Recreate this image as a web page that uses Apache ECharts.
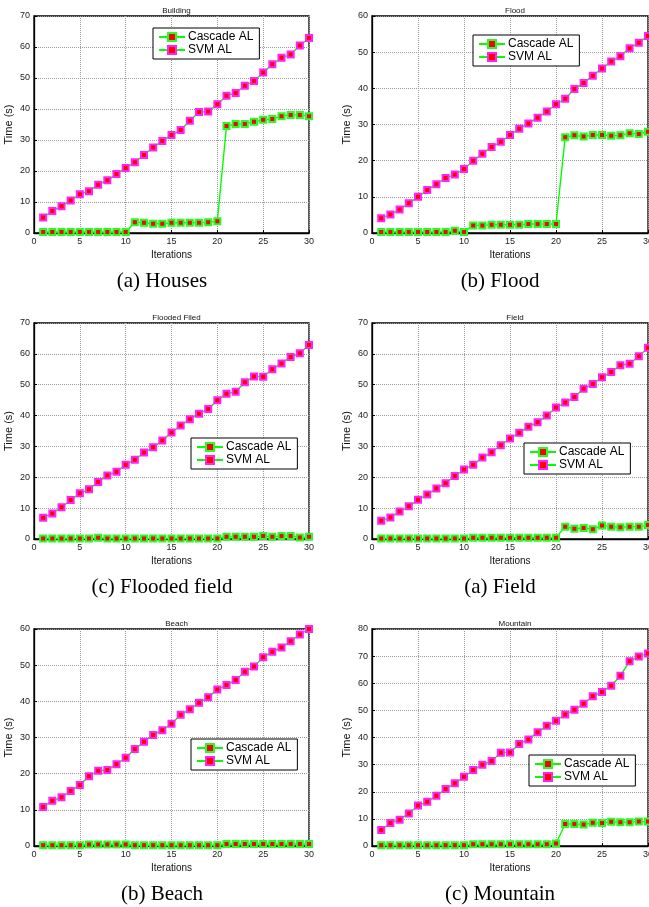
<!DOCTYPE html>
<html>
<head>
<meta charset="utf-8">
<script src="https://cdn.jsdelivr.net/npm/echarts@6/dist/echarts.min.js"></script>
<style>
  html, body { margin: 0; padding: 0; background: #fff; }
  #main { width: 649px; height: 907px; }
</style>
</head>
<body>
<div id="main"></div>
<script>
// iteration index (x axis)
var iterations = [1, 2, 3, 4, 5, 6, 7, 8, 9, 10, 11, 12, 13, 14, 15, 16, 17, 18, 19, 20, 21, 22, 23, 24, 25, 26, 27, 28, 29, 30];

// (a) Houses / Building
var housesCascade = [0.3, 0.3, 0.3, 0.3, 0.3, 0.3, 0.3, 0.3, 0.3, 0.3, 3.5, 3.3, 3.0, 3.0, 3.3, 3.3, 3.3, 3.3, 3.5, 3.8, 34.5, 35.2, 35.2, 35.9, 36.5, 36.8, 37.7, 38.1, 38.1, 37.7];
var housesSvm = [5.0, 7.1, 8.6, 10.5, 12.5, 13.5, 15.6, 17.0, 19.0, 21.0, 22.8, 25.2, 27.6, 29.7, 31.6, 33.2, 36.2, 39.0, 39.2, 41.5, 44.3, 45.2, 47.5, 49.0, 51.8, 54.4, 56.5, 57.6, 60.5, 62.9];

// (b) Flood
var floodCascade = [0.3, 0.3, 0.3, 0.3, 0.3, 0.3, 0.3, 0.3, 0.6, 0.3, 2.1, 2.1, 2.3, 2.3, 2.3, 2.3, 2.5, 2.5, 2.5, 2.5, 26.5, 27.0, 26.7, 27.1, 27.1, 26.9, 27.0, 27.6, 27.4, 28.0];
var floodSvm = [4.1, 5.1, 6.5, 8.2, 10.0, 11.9, 13.5, 15.2, 16.2, 17.7, 20.0, 21.9, 23.8, 25.2, 27.1, 28.8, 30.3, 31.9, 33.6, 35.6, 37.1, 39.8, 41.5, 43.5, 45.5, 47.4, 48.9, 51.1, 52.6, 54.5];

// (c) Flooded field
var floodedFieldCascade = [0.2, 0.2, 0.2, 0.2, 0.2, 0.2, 0.4, 0.2, 0.2, 0.2, 0.2, 0.2, 0.2, 0.2, 0.2, 0.2, 0.2, 0.2, 0.2, 0.2, 0.7, 0.7, 0.7, 0.7, 1.0, 0.7, 1.0, 1.0, 0.5, 0.7];
var floodedFieldSvm = [6.9, 8.3, 10.3, 12.6, 14.8, 16.1, 18.5, 20.6, 21.8, 24.1, 25.7, 28.0, 29.7, 31.9, 34.5, 36.8, 38.8, 40.6, 42.1, 45.0, 47.1, 47.7, 50.8, 52.7, 52.6, 55.0, 56.9, 59.0, 60.2, 62.9];

// (a) Field
var fieldCascade = [0.2, 0.2, 0.2, 0.2, 0.2, 0.2, 0.2, 0.2, 0.2, 0.2, 0.4, 0.4, 0.4, 0.4, 0.4, 0.4, 0.4, 0.4, 0.4, 0.4, 4.0, 3.3, 3.6, 3.2, 4.4, 4.0, 3.8, 4.0, 4.0, 4.5];
var fieldSvm = [5.9, 7.0, 8.9, 10.6, 12.7, 14.4, 16.4, 18.1, 20.4, 22.5, 24.1, 26.4, 28.1, 30.4, 32.6, 34.4, 36.4, 37.8, 40.0, 42.6, 44.2, 46.0, 48.7, 50.2, 52.4, 54.1, 56.3, 56.8, 59.2, 62.0];

// (b) Beach
var beachCascade = [0.2, 0.2, 0.2, 0.2, 0.2, 0.4, 0.4, 0.4, 0.4, 0.4, 0.2, 0.2, 0.2, 0.2, 0.2, 0.2, 0.2, 0.2, 0.2, 0.2, 0.55, 0.55, 0.55, 0.55, 0.55, 0.55, 0.55, 0.55, 0.55, 0.55];
var beachSvm = [10.8, 12.5, 13.5, 15.2, 16.9, 19.3, 20.8, 21.0, 22.6, 24.4, 26.8, 28.8, 30.7, 32.0, 33.8, 36.3, 37.8, 39.6, 41.1, 43.3, 44.5, 45.9, 48.2, 49.6, 52.2, 53.7, 54.9, 56.6, 58.5, 60.0];

// (c) Mountain
var mountainCascade = [0.25, 0.25, 0.25, 0.25, 0.25, 0.25, 0.25, 0.25, 0.25, 0.25, 0.6, 0.6, 0.6, 0.6, 0.6, 0.6, 0.6, 0.6, 0.6, 0.9, 8.1, 8.1, 7.9, 8.6, 8.5, 8.9, 8.8, 8.8, 9.0, 9.0];
var mountainSvm = [5.9, 8.5, 9.7, 12.0, 14.9, 16.3, 18.5, 21.0, 23.1, 25.5, 28.0, 30.0, 31.3, 34.4, 34.5, 37.6, 39.3, 41.9, 44.3, 46.2, 48.5, 50.2, 52.4, 55.2, 56.8, 59.1, 62.8, 68.1, 69.9, 71.0];

var seriesNames = ['Cascade AL', 'SVM AL'];

// layout of the six panels
var panels = [
  { title: 'Building', caption: '(a) Houses', cascade: housesCascade, svm: housesSvm, ymax: 70,
    left: 34, width: 275, top: 16, height: 217, legendPos: [153, 28], capX: 157, capTop: 266 },
  { title: 'Flood', caption: '(b) Flood', cascade: floodCascade, svm: floodSvm, ymax: 60,
    left: 372, width: 276, top: 16, height: 217, legendPos: [473, 35], capX: 495, capTop: 266 },
  { title: 'Flooded Filed', caption: '(c) Flooded field', cascade: floodedFieldCascade, svm: floodedFieldSvm, ymax: 70,
    left: 34, width: 275, top: 323, height: 216, legendPos: [191, 438], capX: 157, capTop: 572 },
  { title: 'Field', caption: '(a) Field', cascade: fieldCascade, svm: fieldSvm, ymax: 70,
    left: 372, width: 276, top: 323, height: 216, legendPos: [524, 443], capX: 495, capTop: 572 },
  { title: 'Beach', caption: '(b) Beach', cascade: beachCascade, svm: beachSvm, ymax: 60,
    left: 34, width: 275, top: 629, height: 217, legendPos: [191, 739], capX: 157, capTop: 879 },
  { title: 'Mountain', caption: '(c) Mountain', cascade: mountainCascade, svm: mountainSvm, ymax: 80,
    left: 372, width: 276, top: 629, height: 217, legendPos: [529, 755], capX: 495, capTop: 879 }
];

var sans = 'Liberation Sans';
var gridLine = { show: true, lineStyle: { color: '#9a9a9a', type: 'dotted', width: 1 } };

var grids = [], xAxes = [], yAxes = [], series = [], legends = [], titles = [];

panels.forEach(function (p, i) {
  grids.push({
    left: p.left, top: p.top, width: p.width, height: p.height,
    outerBoundsMode: 'none', containLabel: false,
    show: true, borderColor: '#000', borderWidth: 1.3, backgroundColor: '#fff'
  });
  xAxes.push({
    gridIndex: i, type: 'value', min: 0, max: 30, interval: 5,
    name: 'Iterations', nameLocation: 'middle', nameGap: 17,
    nameTextStyle: { fontFamily: sans, fontSize: 10, color: '#111' },
    axisLine: { lineStyle: { color: '#000', width: 1.3 } },
    axisTick: { inside: true, length: 3, lineStyle: { color: '#000' } },
    axisLabel: { fontFamily: sans, fontSize: 9, color: '#222', margin: 4 },
    splitLine: gridLine
  });
  yAxes.push({
    gridIndex: i, type: 'value', min: 0, max: p.ymax, interval: 10,
    name: 'Time (s)', nameLocation: 'middle', nameGap: 20,
    nameTextStyle: { fontFamily: sans, fontSize: 11, color: '#111' },
    axisLine: { lineStyle: { color: '#000', width: 1.3 } },
    axisTick: { inside: true, length: 3, lineStyle: { color: '#000' } },
    axisLabel: { fontFamily: sans, fontSize: 9, color: '#222', margin: 4 },
    splitLine: gridLine
  });
  [p.cascade, p.svm].forEach(function (vals, k) {
    series.push({
      name: seriesNames[k], type: 'line', xAxisIndex: i, yAxisIndex: i,
      symbol: 'rect', symbolSize: 6,
      lineStyle: { color: '#00ff00', width: 1.4 },
      itemStyle: { color: '#ff0000', borderColor: k === 0 ? '#22ff22' : '#ff22ff', borderWidth: 2 },
      data: iterations.map(function (it, j) { return [it, vals[j]]; })
    });
  });
  legends.push({
    data: seriesNames, orient: 'vertical',
    left: p.legendPos[0], top: p.legendPos[1],
    backgroundColor: '#fff', borderColor: '#000', borderWidth: 1,
    padding: [3, 6, 3, 5], itemGap: 1, itemWidth: 26, itemHeight: 10,
    textStyle: { fontFamily: sans, fontSize: 12, color: '#000', padding: [0, 0, 0, -2] }
  });
  titles.push({
    text: p.title, left: p.left + p.width / 2, top: p.top - 14, textAlign: 'center',
    textStyle: { fontFamily: sans, fontSize: 8, fontWeight: 'normal', color: '#111' }
  });
  titles.push({
    text: p.caption, left: p.capX, top: p.capTop, textAlign: 'center',
    textStyle: { fontFamily: 'Liberation Serif', fontSize: 21, fontWeight: 'normal', color: '#000' }
  });
});

var chart = echarts.init(document.getElementById('main'));
chart.setOption({
  animation: false,
  backgroundColor: '#fff',
  title: titles,
  legend: legends,
  grid: grids,
  xAxis: xAxes,
  yAxis: yAxes,
  series: series
});
</script>
</body>
</html>
